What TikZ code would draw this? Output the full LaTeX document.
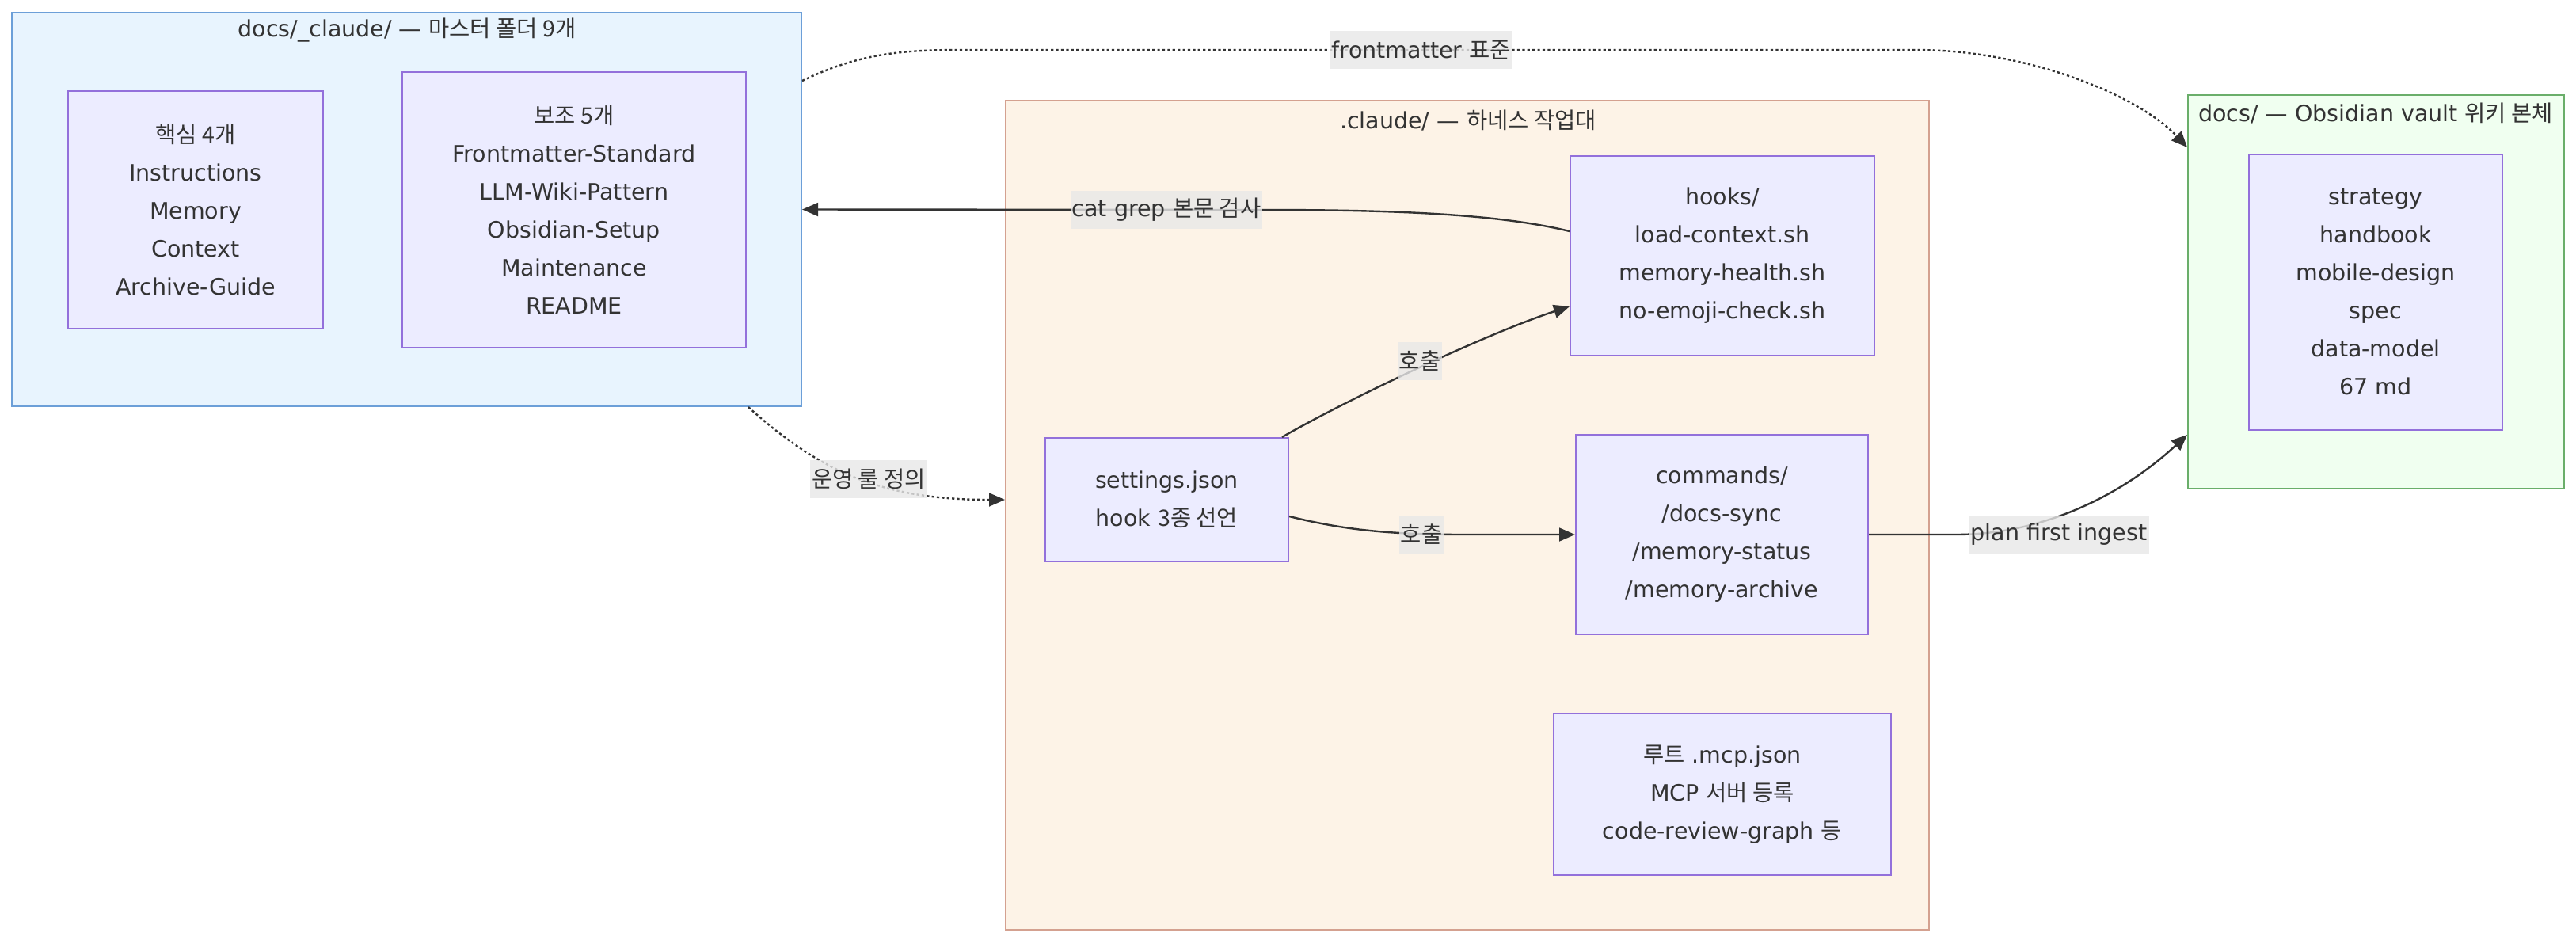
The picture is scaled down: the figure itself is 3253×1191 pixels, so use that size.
\documentclass[tikz,border=0pt]{standalone}
\usepackage{fontspec}
\setmainfont{DejaVu Sans}
\newfontfamily\kr{Noto Sans CJK KR}
\usetikzlibrary{arrows.meta,calc}
\definecolor{txt}{HTML}{333333}
\definecolor{nfill}{HTML}{ECECFF}
\definecolor{nline}{HTML}{9370DB}
\definecolor{afill}{HTML}{E8F4FE}
\definecolor{aline}{HTML}{6C9FD8}
\definecolor{bfill}{HTML}{FDF3E7}
\definecolor{bline}{HTML}{D4A190}
\definecolor{cfill}{HTML}{F0FFF0}
\definecolor{cline}{HTML}{6AAE6A}
\definecolor{lfill}{HTML}{E8E8E8}
\definecolor{ecol}{HTML}{333333}
\begin{document}
\begin{tikzpicture}[x=0.25pt,y=-0.25pt,
  font=\fontsize{7.125pt}{12pt}\selectfont, text=txt,
  cluster/.style={line width=0.5pt, inner sep=0pt},
  nbox/.style={draw=nline, fill=nfill, line width=0.5pt, align=center, inner sep=0pt},
  elab/.style={fill=lfill, fill opacity=0.8, text opacity=1, inner xsep=0.5pt, inner ysep=0pt, minimum height=12pt},
  conn/.style={draw=ecol, line width=0.6pt, -{Triangle[length=5pt,width=4.2pt]}},
  dconn/.style={conn, dash pattern=on 0.8pt off 0.8pt},
]
\useasboundingbox (0,0) rectangle (3253,1191);
\fill[white] (0,0) rectangle (3253,1191);

% clusters
\node[cluster, draw=aline, fill=afill, minimum width=249.25pt, minimum height=124.25pt] (A) at (513.5,264.5) {};
\node (Atitle) at (514,38) {docs/\_claude/ — {\kr 마스터 폴더 9개}};
\node[cluster, draw=bline, fill=bfill, minimum width=291.5pt, minimum height=261.75pt] (B) at (1853,650.5) {};
\node (Btitle) at (1854,152) {.claude/ — {\kr 하네스 작업대}};
\node[cluster, draw=cline, fill=cfill, minimum width=118.75pt, minimum height=124.25pt] (C) at (3000.5,368.5) {};
\node (Ctitle) at (3000,143) {docs/ — Obsidian vault {\kr 위키 본체}};

% nodes
\node[nbox, minimum width=80.5pt, minimum height=75pt] (core) at (247,265) {{\kr 핵심 4개}\\Instructions\\Memory\\Context\\Archive-Guide};
\node[nbox, minimum width=108.5pt, minimum height=87pt] (aux) at (725,265) {{\kr 보조 5개}\\Frontmatter-Standard\\LLM-Wiki-Pattern\\Obsidian-Setup\\Maintenance\\README};
\node[nbox, minimum width=96pt, minimum height=63pt] (hooks) at (2175,323) {hooks/\\load-context.sh\\memory-health.sh\\no-emoji-check.sh};
\node[nbox, minimum width=92.25pt, minimum height=63pt] (commands) at (2174.5,675) {commands/\\/docs-sync\\/memory-status\\/memory-archive};
\node[nbox, minimum width=76.75pt, minimum height=39pt] (settings) at (1473.5,631) {settings.json\\hook {\kr 3종 선언}};
\node[nbox, minimum width=106.5pt, minimum height=51pt] (mcp) at (2175,1003) {{\kr 루트} .mcp.json\\MCP {\kr 서버 등록}\\code-review-graph {\kr 등}};
\node[nbox, minimum width=80pt, minimum height=87pt] (vault) at (3000,369) {strategy\\handbook\\mobile-design\\spec\\data-model\\67 md};

% label anchors
\coordinate (l1) at (1795,63);

% connectors
\draw[dconn] ($(A.north east)+(0,87)$) .. controls (1080,70) and (1130,63) .. (1210,63) -- (l1) -- (2420,63) .. controls (2560,63) and (2700,120) .. ($(C.north west)+(0,67)$);
\draw[conn] ($(hooks.north west)+(0,96)$) .. controls (1900,272) and (1780,265) .. (1600,265) -- (A.east);
\draw[conn] ($(settings.north east)+(-9,0)$) .. controls (1700,505) and (1880,420) .. ($(hooks.north west)+(0,191)$);
\draw[conn] ($(settings.east)+(0,21)$) .. controls (1700,670) and (1760,675) .. (1850,675) -- (commands.west);
\draw[dconn] ($(A.south east)+(-68,0)$) .. controls (1040,600) and (1120,631) .. (B.west |- settings.west);
\draw[conn] (commands.east) -- (2470,675) .. controls (2580,675) and (2680,625) .. ($(C.north west)+(0,430)$);

% edge labels
\node[elab] (L1) at (l1) {frontmatter {\kr 표준}};
\node[elab] (L2) at (1473,265) {cat grep {\kr 본문 검사}};
\node[elab] (L3) at (1793,456) {{\kr 호출}};
\node[elab] (L4) at (1795,675) {{\kr 호출}};
\node[elab] (L5) at (1097,605) {{\kr 운영 룰 정의}};
\node[elab] (L6) at (2600,675) {plan first ingest};
\end{tikzpicture}
\end{document}
